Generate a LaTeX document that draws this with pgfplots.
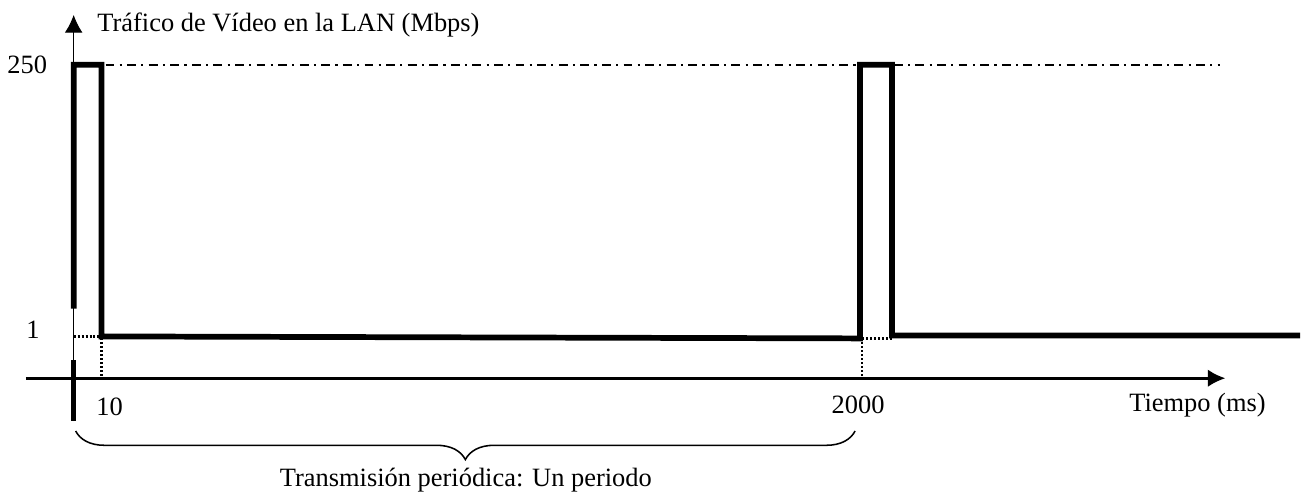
\documentclass[border=0pt]{standalone}
\usepackage{fontspec}
\setmainfont{Liberation Serif}
\usepackage{pgfplots}
\pgfplotsset{compat=1.18}
\usetikzlibrary{arrows.meta,decorations.pathreplacing}
\begin{document}
\begin{tikzpicture}[every node/.style={font=\fontsize{12}{14.4}\selectfont}]
\begin{axis}[
  width=592.1pt, height=222.8pt, scale only axis,
  xmin=-68, xmax=1242, ymin=-113, ymax=380,
  hide axis, clip=false]
\path (axis cs:-68,-113) rectangle (axis cs:1242,380);
% thin y axis
\draw[line width=0.45pt,-{Latex[length=8pt,width=8pt]}] (axis cs:0,-43) -- (axis cs:0,365);
% x axis
\draw[line width=1.2pt,-{Latex[length=8pt,width=8pt]}] (axis cs:-48,0) -- (axis cs:1157,0);
% thick lower part of y axis
\addplot[black, line width=2pt] coordinates {(0,18) (0,-43)};
% dash-dot 250 reference
\addplot[black, line width=1pt, dash pattern=on 4pt off 2.4pt on 1pt off 2.4pt] coordinates {(32,315) (790,315)};
\addplot[black, line width=1pt, dash pattern=on 4pt off 2.4pt on 1pt off 2.4pt] coordinates {(824,315) (1152,315)};
% dotted guides
\addplot[black, line width=1.2pt, dash pattern=on 0.9pt off 0.9pt] coordinates {(0,42) (26,42)};
\addplot[black, line width=1.2pt, dash pattern=on 0.9pt off 0.9pt] coordinates {(28,40) (28,0)};
\addplot[black, line width=1.2pt, dash pattern=on 0.9pt off 0.9pt] coordinates {(792,40) (822,40)};
\addplot[black, line width=1.2pt, dash pattern=on 0.9pt off 0.9pt] coordinates {(792,40) (792,0)};
% signal
\addplot[black, line width=2.6pt, line join=miter] coordinates {
 (0,70) (0,315) (28,315) (28,42) (790,40) (790,315) (822,315) (822,43) (1232,43)};
% labels
\node[anchor=east] at (axis cs:-19,315) {250};
\node at (axis cs:-41,49) {1};
\node at (axis cs:36,-29) {10};
\node at (axis cs:788,-27) {2000};
\node at (axis cs:1129,-27) {Tiempo (ms)};
\node[anchor=west] at (axis cs:16,355) {Tráfico de Vídeo en la LAN (Mbps)};
\draw[line width=0.7pt, decorate, decoration={brace, mirror, amplitude=13pt}] (axis cs:2,-53) -- (axis cs:785,-53);
\node at (axis cs:394,-102) {Transmisión periódica: Un periodo};
\end{axis}
\end{tikzpicture}
\end{document}
